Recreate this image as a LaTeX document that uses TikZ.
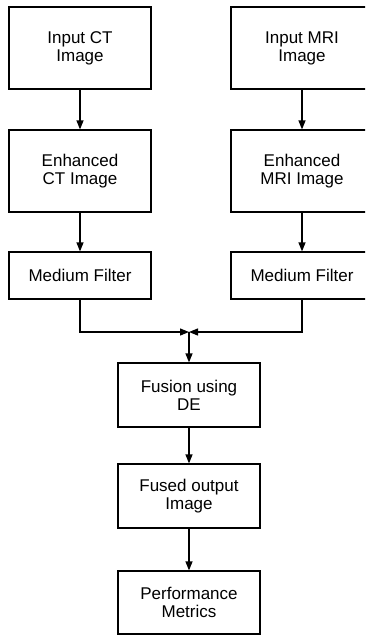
\documentclass[tikz,border=0pt]{standalone}
\usepackage{fontspec}
\setmainfont{Liberation Sans}
\usetikzlibrary{arrows.meta}
\newcommand*{\w}{142}

\begin{document}
\begin{tikzpicture}[
   x=1pt, y=-1pt,
   tallbox/.style={rectangle, draw=black, fill=white, line width=1.2, text=black,
                   align=center, inner sep=2, minimum width=\w, minimum height=82,
                   font=\fontsize{17}{18}\selectfont},
   flatbox/.style={tallbox, minimum height=47},
   midbox/.style={tallbox, minimum height=64},
   flow/.style={-{Triangle[length=9, width=7]}, line width=1.2, color=black}
  ]

  % Column Centres
  \pgfmathsetmacro{\l}{80}
  \pgfmathsetmacro{\r}{302}
  \pgfmathsetmacro{\m}{189}

  \useasboundingbox (0, 0) rectangle (365, 635);
  \clip (0, 0) rectangle (365, 635);

  \node (ct) at (\l, 48) [tallbox] {Input CT\\Image};
  \node (mri) at (\r, 48) [tallbox] {Input MRI\\Image};

  \node (ect) at (\l, 171) [tallbox] {Enhanced\\CT Image};
  \node (emri) at (\r, 171) [tallbox] {Enhanced\\MRI Image};

  \node (fct) at (\l, 275.5) [flatbox] {Medium Filter};
  \node (fmri) at (\r, 275.5) [flatbox] {Medium Filter};

  \coordinate (join) at (\m, 332);

  \node (fus) at (\m, 395) [midbox] {Fusion using\\DE};
  \node (out) at (\m, 496) [midbox] {Fused output\\Image};
  \node (perf) at (\m, 602.5) [midbox, minimum height=63] {Performance\\Metrics};

  \foreach \B/\E in {ct/ect, ect/fct, mri/emri, emri/fmri,
                     join/fus, fus/out, out/perf} {
    \draw[flow] (\B) -- (\E);
  }
  \draw[flow] (fct.south) |- (join);
  \draw[flow] (fmri.south) |- (join);

\end{tikzpicture}
\end{document}
